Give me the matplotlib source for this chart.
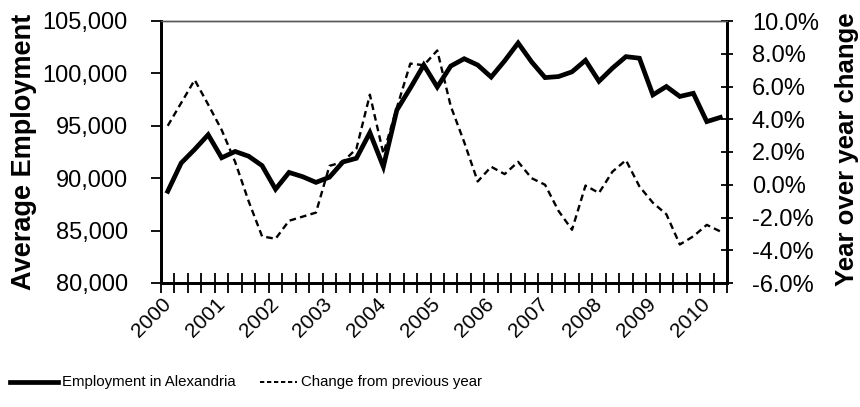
import matplotlib
matplotlib.use("Agg")
import matplotlib.pyplot as plt
from matplotlib.lines import Line2D
from matplotlib.ticker import FixedLocator, FuncFormatter
import numpy as np

plt.rcParams['font.family'] = ['Liberation Sans', 'DejaVu Sans']

# Quarterly data, 2000 Q1 .. 2010 Q2
year_labels = ['2000', '2001', '2002', '2003', '2004', '2005',
               '2006', '2007', '2008', '2009', '2010']
employment = [88750, 91450, 92750, 94150, 91950, 92550, 92100, 91200,
              88950, 90550, 90150, 89600, 90100, 91550, 91900, 94350,
              91100, 96500, 98600, 100800, 98700, 100700, 101400, 100800,
              99650, 101200, 102900, 101100, 99600, 99700, 100150, 101250,
              99250, 100500, 101600, 101450, 97950, 98750, 97800, 98100,
              95400, 95800]
yoy_change = [3.6, 5.0, 6.4, 4.9, 3.35, 1.4, -1.0, -3.15, -3.3, -2.2,
              -1.95, -1.7, 1.15, 1.4, 2.2, 5.5, 1.9, 4.7, 7.4, 7.3,
              8.2, 4.8, 2.6, 0.2, 1.1, 0.65, 1.4, 0.4, 0.0, -1.6,
              -2.75, -0.05, -0.5, 0.8, 1.5, -0.1, -1.1, -1.8, -3.65, -3.15,
              -2.45, -2.85]
series_names = ['Employment in Alexandria', 'Change from previous year']

W, H = 860, 407
fig = plt.figure(figsize=(W / 100, H / 100), dpi=100)
L, R, T, B = 161, 727, 21, 283
ax = fig.add_axes([L / W, 1 - B / H, (R - L) / W, (B - T) / H])
ax2 = ax.twinx()

x = np.arange(len(employment))
ax.plot(x, employment, color='black', lw=3.4, solid_joinstyle='miter', zorder=3)
ax2.plot(x, yoy_change, color='black', lw=1.7, linestyle=(0, (2.8, 1.8)), zorder=4)

n = len(employment)
ax.set_xlim(-0.5, n - 0.5)
ax.set_ylim(80000, 105000)
ax2.set_ylim(-6, 10)

ax.set_yticks(np.arange(80000, 105001, 5000))
ax.yaxis.set_major_formatter(FuncFormatter(lambda v, p: f"{v:,.0f}"))
ax2.set_yticks(np.arange(-6, 10.01, 2))
ax2.yaxis.set_major_formatter(FuncFormatter(lambda v, p: f"{v:.1f}%"))

label_pos = np.arange(0, 4 * len(year_labels), 4)
ax.set_xticks(label_pos)
ax.set_xticklabels(year_labels, rotation=45, ha='right', va='center',
                   rotation_mode='anchor')
ax.xaxis.set_minor_locator(FixedLocator(np.arange(-0.5, n, 1.0)))
ax.tick_params(axis='x', which='major', length=0, pad=13, labelsize=15)
ax.tick_params(axis='x', which='minor', direction='inout', length=14, width=1.3)
ax.tick_params(axis='y', direction='out', length=7, width=1.3, pad=17, labelsize=17)
ax2.tick_params(axis='y', direction='inout', length=8, width=1.3, pad=14, labelsize=17)

for s in ['left', 'bottom', 'right']:
    ax.spines[s].set_linewidth(2.0)
    ax2.spines[s].set_linewidth(2.0)
for a in (ax, ax2):
    a.spines['top'].set_linewidth(1.0)
    a.spines['top'].set_color('#555555')

ax.set_ylabel('Average Employment', fontsize=19.5, fontweight='bold')
ax.yaxis.set_label_coords((37 - L) / (R - L), 0.5)
ax2.set_ylabel('Year over year change', fontsize=18.5, fontweight='bold',
               rotation=90)
ax2.yaxis.set_label_coords((835 - L) / (R - L), 0.51)

# legend drawn below the plot
ly = 1 - 382 / H
fig.add_artist(Line2D([10 / W, 58 / W], [ly, ly], color='black', lw=3.4,
                      transform=fig.transFigure))
fig.text(62 / W, ly, series_names[0], fontsize=10.8, va='center', ha='left')
fig.add_artist(Line2D([260 / W, 297 / W], [ly, ly], color='black', lw=1.4,
                      linestyle=(0, (2.2, 1.4)), transform=fig.transFigure))
fig.text(301 / W, ly, series_names[1], fontsize=10.8, va='center', ha='left')

fig.savefig('out.png', dpi=100)
